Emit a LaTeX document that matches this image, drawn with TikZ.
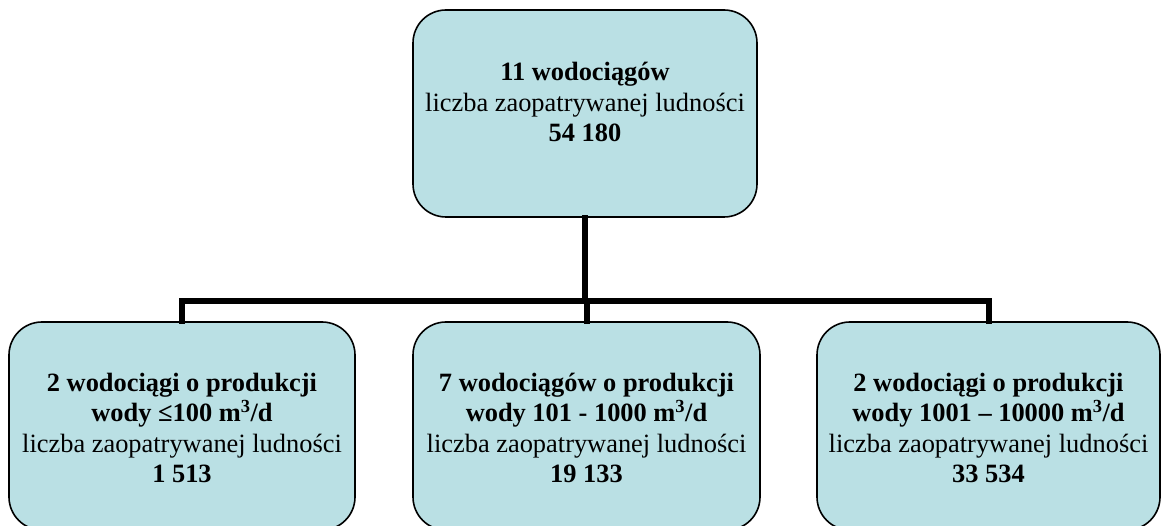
\documentclass[tikz,border=0pt]{standalone}
\usepackage{fontspec}
\setmainfont{Liberation Serif}
\definecolor{boxfill}{RGB}{186,224,228}
\begin{document}
\begin{tikzpicture}[x=1pt,y=-1pt,
  boxnode/.style={draw=black,line width=1.6pt,fill=boxfill,rounded corners=33pt,inner sep=0pt},
  txt/.style={align=center,inner sep=0pt,font=\fontsize{26.4}{30.5}\selectfont},
  conn/.style={line width=6pt,line join=miter,line cap=rect}]
\useasboundingbox (0,0) rectangle (1162,526);
\clip (0,0) rectangle (1162,526);
\fill[white] (0,0) rectangle (1162,526);
% boxes
\node[boxnode,minimum width=344pt,minimum height=207pt] (top) at (585,113.5) {};
\node[boxnode,minimum width=346pt,minimum height=208pt] (left) at (182,426) {};
\node[boxnode,minimum width=347pt,minimum height=208pt] (mid) at (586.5,426) {};
\node[boxnode,minimum width=343pt,minimum height=208pt] (right) at (988.5,426) {};
% connectors
\coordinate (bus) at (585,301);
\draw[conn] (top.south) -- (bus);
\draw[conn] (bus -| mid.north) -- (mid.north);
\draw[conn] (left.north) |- (bus) -| (right.north);
% texts
\node[txt] (ttop) at (585,102) {\textbf{11 wodociągów}\\liczba zaopatrywanej ludności\\\textbf{54 180}};
\node[txt] (tleft) at (182,428) {\textbf{2 wodociągi o produkcji}\\\textbf{wody ≤100 m\textsuperscript{3}/d}\\liczba zaopatrywanej ludności\\\textbf{1 513}};
\node[txt] (tmid) at (586.5,428) {\textbf{7 wodociągów o produkcji}\\\textbf{wody 101 - 1000 m\textsuperscript{3}/d}\\liczba zaopatrywanej ludności\\\textbf{19 133}};
\node[txt] (tright) at (988.5,428) {\textbf{2 wodociągi o produkcji}\\\textbf{wody 1001 – 10000 m\textsuperscript{3}/d}\\liczba zaopatrywanej ludności\\\textbf{33 534}};
% redraw box borders above connectors
\end{tikzpicture}
\end{document}
